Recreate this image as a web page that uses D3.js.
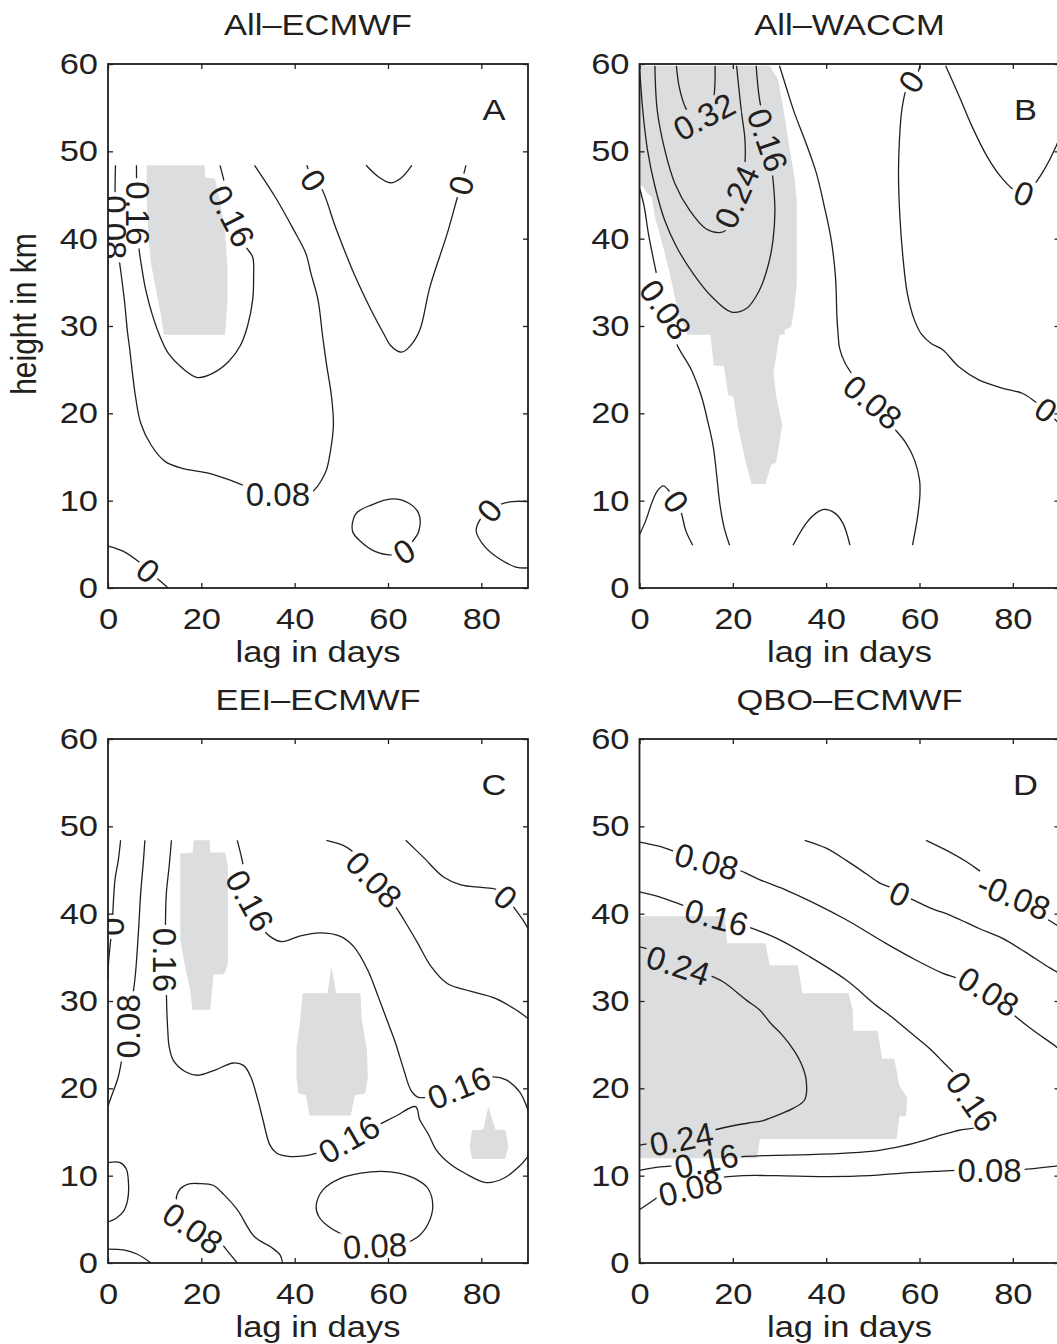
<!DOCTYPE html>
<html>
<head>
<meta charset="utf-8">
<script src="https://cdn.jsdelivr.net/npm/d3@7"></script>
<style>
body { margin: 0; background: #fff; }
svg text { font-family: "Liberation Sans", Arial, Helvetica, sans-serif; fill: #231f20; }
</style>
</head>
<body>
<script>
// axis ticks, titles
const lagTicks = [0, 20, 40, 60, 80];
const kmTicks = [0, 10, 20, 30, 40, 50, 60];
const titles = ["All\u2013ECMWF", "All\u2013WACCM", "EEI\u2013ECMWF", "QBO\u2013ECMWF"];
const letters = ["A", "B", "C", "D"];

// contour lines as [lag in days, height in km]
// panel A
const linesA = [
  // 0.08
  [[1.6,48.4],[1.5,44.4],[1.6,40.6],[2.6,36.8],[3.5,33.0],[4.2,29.2],[4.6,27.6],[5.0,25.7],[5.9,21.9],[7.0,18.9],[9.2,16.4],[12.2,14.5],[15.9,13.7],[21.0,13.2],[25.4,12.5],[29.9,11.6],[36.4,10.9],[43.2,10.8],[46.5,13.1],[47.7,15.8],[48.3,18.7],[47.9,21.9],[46.8,25.7],[46.0,28.8],[45.0,33.0],[43.5,36.0],[42.4,38.3],[39.8,41.0],[35.8,44.8],[31.4,48.4]],
  // 0.16
  [[6.1,48.4],[6.2,44.0],[6.6,39.1],[7.2,36.8],[8.1,34.1],[9.6,31.1],[11.3,28.6],[12.9,26.9],[15.9,25.2],[19.2,24.1],[22.5,24.6],[25.8,25.9],[28.4,27.8],[29.9,30.0],[31.0,33.0],[31.2,35.6],[31.0,37.9],[29.5,39.1],[26.5,42.6],[25.1,46.1],[24.0,48.4]],
  // 0
  [[42.6,48.4],[44.0,46.7],[45.7,45.8],[48.7,41.4],[52.7,36.0],[56.4,31.8],[59.4,28.8],[60.5,27.8],[62.9,27.0],[64.9,27.8],[66.8,29.5],[69.0,34.5],[72.7,40.6],[74.9,44.8],[75.6,46.1],[76.7,48.4]],
  [[55.3,48.4],[57.9,47.1],[60.5,46.4],[62.7,46.9],[65.1,48.4]],
  [[90,9.9],[86.7,9.9],[83.7,9.5],[81.7,8.9],[79.7,7.8],[78.9,6.5],[80.8,4.7],[83.7,3.4],[87.4,2.4],[90,2.3]],
  [[0,4.8],[3.3,4.2],[6.6,3.0],[8.6,2.0],[10.3,1.2],[12.9,0]]
];
const loopsA = [
  [[53.1,8.5],[56.4,9.5],[60.9,10.2],[64.5,9.7],[66.6,8.5],[66.6,6.5],[64.9,5.1],[63.4,4.2],[60.9,3.8],[57.2,4.2],[54.2,5.3],[52.4,6.5]]
];
const shadeA = [
  [[8.3,48.4],[20.7,48.4],[20.8,47.0],[22.9,46.9],[24.0,44.4],[25.1,40.6],[25.6,36.8],[25.6,33.0],[25.1,29.0],[12.0,29.0],[11.4,31.1],[10.3,34.1],[9.2,37.2],[8.6,40.6],[8.3,44.4]]
];
const labelsA = [
  ["0.08", 1.5, 41.3, 90], ["0.16", 6.3, 42.9, 90], ["0.16", 26.5, 42.6, 63],
  ["0", 44.0, 46.7, 58], ["0", 75.6, 46.1, -75], ["0.08", 36.4, 10.7, 0],
  ["0", 63.4, 4.2, -32], ["0", 81.7, 8.9, -50], ["0", 8.6, 2.0, 40]
];

// panel B
const linesB = [
  // 0.08 left
  [[0,45.8],[1.0,43.7],[1.9,40.6],[3.0,37.6],[3.8,35.6],[5.6,31.9],[7.9,28.0],[11.1,25.0],[13.3,21.9],[14.7,18.9],[15.8,16.2],[16.5,13.1],[17.2,9.7],[18.1,7.0],[19.3,4.9]],
  // 0.16
  [[0,59.7],[0.7,54.7],[1.7,50.2],[3.3,46.0],[5.4,42.1],[7.9,39.1],[11.5,36.0],[15.4,33.4],[19.7,31.6],[22.9,32.0],[25.7,34.1],[27.5,36.8],[28.6,39.8],[29.0,43.7],[27.5,51.3],[25.7,56.0],[25.0,59.8]],
  // 0.24
  [[3.3,59.8],[3.8,54.7],[5.4,50.2],[7.6,46.3],[10.8,43.2],[14.3,41.1],[17.2,40.7],[18.6,41.0],[20.8,44.8],[22.5,48.2],[22.6,51.3],[21.8,54.7],[20.8,59.8]],
  // 0.32
  [[7.9,59.8],[8.5,57.4],[9.7,55.2],[11.5,53.6],[13.8,53.4],[15.5,54.8],[16.1,57.1],[16.2,59.8]],
  // 0.08 right
  [[30.0,59.8],[31.4,57.4],[33.2,54.4],[35.7,50.9],[37.9,47.5],[39.6,43.7],[41.1,39.8],[42.0,35.6],[42.3,31.1],[42.5,29.5],[42.9,27.4],[44.1,25.7],[50.0,21.3],[54.2,18.5],[57.1,16.6],[58.9,14.7],[60.0,12.4],[60.1,10.8],[59.6,8.2],[58.5,4.9]],
  // 0
  [[60.1,59.8],[59.4,58.7],[58.2,58.0],[57.1,57.0],[56.2,54.7],[55.7,51.3],[55.5,47.5],[55.8,42.5],[56.5,37.6],[57.4,33.7],[58.9,30.7],[60.5,29.0],[62.5,28.0],[64.9,27.3],[68.5,25.3],[72.8,23.8],[77.7,22.9],[82.0,22.3],[84.9,21.3],[87.1,20.4],[89.2,19.2],[90,18.8]],
  [[65.6,59.8],[68.5,56.3],[71.3,52.8],[74.5,49.4],[77.4,47.1],[80.2,45.6],[82.4,45.2],[84.1,45.9],[86.6,47.8],[89.2,50.5],[90,51.6]],
  [[0,6.1],[1.4,7.8],[2.6,9.7],[3.8,11.1],[5.1,11.7],[6.5,11.0],[7.9,9.9],[9.0,8.5],[9.9,6.6],[11.4,4.9]],
  [[32.9,4.9],[35.7,7.4],[37.9,8.6],[39.6,9.0],[41.8,8.6],[43.6,7.4],[45.1,4.9]]
];
const loopsB = [];
const shadeB = [
  [[0,59.8],[27.9,59.8],[29.7,58.2],[30.9,54.7],[32.2,50.2],[33.2,47.1],[33.7,44.4],[33.7,34.9],[33.2,32.2],[32.5,29.9],[31.1,29.5],[31.1,29.0],[30.0,29.0],[28.7,24.6],[29.3,21.9],[30.6,18.7],[30.0,16.6],[29.2,14.3],[28.2,14.1],[27.0,11.9],[24.0,11.9],[22.5,15.0],[21.1,18.5],[20.1,21.9],[19.0,22.1],[18.1,25.4],[15.9,25.5],[15.2,29.0],[10.1,29.0],[10.1,29.5],[8.3,31.5],[6.5,36.0],[4.7,39.8],[3.3,42.5],[2.6,44.8],[1.7,45.2],[0.6,46.0],[0,46.0]]
];
const labelsB = [
  ["0.08", 5.6, 31.9, 55], ["0.16", 27.5, 51.3, 71], ["0.24", 20.8, 44.8, -66],
  ["0.32", 13.8, 54.0, -28], ["0.08", 50.0, 21.3, 40], ["0", 58.2, 58.0, -57],
  ["0", 87.1, 20.4, 35], ["0", 82.4, 45.2, 20], ["0", 7.9, 9.9, 55]
];

// panel C
const linesC = [
  [[2.7,48.4],[2.2,46.1],[1.5,43.9],[1.1,40.8],[0.9,38.5],[0.5,36.6],[0.1,34.3],[0,32.4]],
  // 0.08 left
  [[7.9,48.4],[7.6,46.1],[7.0,42.3],[6.5,37.7],[5.9,33.2],[5.4,30.9],[4.4,27.1],[3.0,23.4],[2.2,21.3],[1.1,19.6],[0.2,18.3],[0,17.9]],
  // 0.16 lower
  [[13.6,48.4],[13.1,45.4],[12.5,42.3],[12.3,38.5],[12.2,34.7],[12.5,31.1],[12.6,29.0],[12.8,26.7],[13.1,24.8],[14.0,23.2],[16.6,21.9],[19.2,21.5],[22.5,22.0],[26.9,22.9],[29.1,22.6],[30.6,21.3],[32.1,18.7],[33.2,16.4],[34.7,13.5],[36.1,12.6],[38.7,12.2],[42.4,12.3],[45.4,12.7],[51.6,14.2],[57.9,15.8],[61.6,16.8],[65.9,17.9],[66.8,16.4],[68.6,14.8],[70.4,12.9],[73.4,11.3],[76.4,10.3],[81.1,9.2],[84.8,9.7],[88.2,11.1],[90,12.2]],
  // 0.16 upper
  [[27.7,48.4],[28.8,46.0],[30.4,41.5],[32.5,38.8],[34.7,37.4],[37.3,36.8],[40.9,37.4],[45.4,37.8],[49.8,37.4],[52.7,36.2],[55.7,33.5],[57.9,30.5],[60.0,27.5],[61.6,25.2],[63.4,22.1],[64.9,19.8],[66.4,19.0],[68.6,19.0],[75.2,20.1],[82.3,21.3],[85.2,21.0],[88.2,19.6],[90,17.5]],
  // 0.08 upper
  [[46.8,48.4],[50.5,47.8],[52.7,47.0],[57.0,43.9],[61.6,40.8],[63.4,39.3],[66.4,36.6],[69.3,33.9],[72.7,32.0],[77.8,31.1],[83.0,30.3],[87.4,29.0],[90,28.0]],
  // 0
  [[63.8,48.4],[67.5,46.5],[71.9,44.2],[75.6,43.3],[80.0,43.0],[83.0,42.8],[85.2,41.9],[87.4,40.4],[88.9,39.3],[90,38.3]],
  [[0,11.5],[2.6,11.5],[3.9,10.8],[4.4,9.1],[4.2,7.2],[3.3,5.9],[1.7,5.1],[0,4.7]],
  [[0,1.6],[3.3,1.5],[6.3,1.0],[9.2,0]],
  // 0.08 arch
  [[27.7,0],[25.4,1.5],[24.0,2.4],[18.2,4.3],[14.8,6.5],[15.1,8.2],[17.0,9.0],[19.5,9.1],[22.5,8.9],[24.9,7.8],[27.7,6.1],[31.4,3.0],[35.0,1.8],[36.9,0.9],[37.4,0]]
];
const loopsC = [
  [[46.1,8.4],[49.8,9.7],[54.2,10.3],[58.6,10.5],[62.3,10.3],[66.0,9.6],[68.6,8.5],[69.6,6.5],[68.6,4.5],[66.4,3.0],[63.8,2.3],[57.2,2.0],[50.5,3.2],[47.2,4.2],[45.2,5.3],[44.6,6.5]]
];
const shadeC = [
  [[18.4,48.4],[21.8,48.4],[21.9,47.0],[25.1,47.0],[25.7,45.4],[25.7,34.3],[24.9,33.1],[22.6,33.0],[21.9,29.0],[18.1,29.0],[17.6,31.3],[16.4,34.3],[15.5,37.0],[15.5,46.9],[18.1,47.0]],
  [[47.9,33.9],[48.9,30.9],[54.1,30.9],[54.4,27.8],[55.5,24.4],[55.7,21.3],[55.1,19.4],[52.9,19.2],[52.0,16.9],[43.2,16.9],[42.4,19.2],[40.8,19.4],[40.4,21.3],[40.4,24.8],[41.1,27.4],[41.7,30.9],[47.0,30.9]],
  [[81.5,17.9],[83.0,15.3],[85.2,15.2],[85.8,13.3],[85.1,11.9],[78.0,11.9],[77.5,13.3],[78.0,15.2],[80.4,15.3]]
];
const labelsC = [
  ["0", 1.0, 38.5, 90], ["0.08", 4.4, 27.1, -90], ["0.16", 12.2, 34.7, 90],
  ["0.16", 30.4, 41.5, 61], ["0.08", 57.0, 43.9, 46], ["0", 85.2, 41.9, 40],
  ["0.16", 51.6, 14.2, -30], ["0.16", 75.2, 20.1, -22], ["0.08", 18.2, 4.0, 35],
  ["0.08", 57.2, 2.0, -3]
];

// panel D
const linesD = [
  // 0.08 upper
  [[0,48.2],[4.4,47.7],[7.6,47.1],[14.4,46.0],[20.8,45.1],[25.7,43.9],[31.4,42.7],[37.1,41.3],[44.3,39.3],[52.8,36.6],[59.2,34.7],[64.9,33.2],[68.1,32.6],[74.8,31.1],[80.2,28.4],[84.2,26.7],[89.2,24.8],[90,24.4]],
  // 0.16
  [[0,42.5],[4.4,41.9],[10.1,40.8],[16.5,39.6],[22.2,38.7],[29.3,37.2],[36.4,35.1],[44.3,32.4],[50.7,29.5],[53.5,28.4],[57.8,26.5],[62.1,24.6],[64.9,23.1],[67.9,21.4],[71.3,18.5],[72.9,15.8],[68.5,15.2],[64.9,14.7],[61.4,14.1],[56.4,13.4],[51.4,12.9],[45.0,12.6],[36.4,12.4],[27.2,12.3],[20.0,12.1],[14.3,11.7],[8.7,11.2],[4.4,11.0],[0,10.6]],
  // 0.24
  [[0,36.2],[3.7,35.6],[8.3,34.1],[14.7,33.0],[17.9,32.2],[22.9,30.1],[25.7,29.0],[28.2,27.4],[30.6,26.1],[32.9,24.5],[34.6,22.9],[35.7,21.0],[35.4,18.7],[32.9,17.7],[30.4,17.1],[26.5,16.3],[24.3,16.1],[20.8,15.8],[15.8,15.2],[9.0,14.2],[3.7,13.8],[0,13.5]],
  // 0.08 lower
  [[0,6.1],[2.2,6.9],[5.7,8.1],[10.9,8.9],[16.5,9.7],[22.2,10.0],[29.3,10.0],[40.0,9.9],[49.3,10.0],[56.4,10.3],[63.5,10.5],[68.1,10.6],[75.0,10.6],[82.0,10.7],[89.2,11.1],[90,11.15]],
  // 0
  [[35.4,48.4],[40.0,47.5],[44.3,46.1],[48.5,44.6],[51.5,43.5],[54.2,42.9],[55.8,42.3],[58.5,41.6],[62.1,40.7],[67.1,39.7],[72.8,38.3],[77.7,37.2],[82.7,35.6],[87.0,34.1],[89.2,33.4],[90,33.1]],
  // -0.08
  [[61.4,48.4],[65.6,47.3],[69.9,46.0],[72.9,44.9],[75.6,43.9],[80.2,42.0],[85.0,40.2],[90,38.5]]
];
const loopsD = [];
const shadeD = [
  [[0,39.7],[18.3,39.7],[18.8,36.6],[27.0,36.6],[27.9,34.1],[33.9,34.1],[34.9,30.9],[44.8,30.9],[45.7,29.0],[45.8,26.6],[51.0,26.6],[52.0,23.4],[54.6,23.4],[55.7,20.3],[57.4,18.9],[57.1,16.8],[55.7,16.8],[55.1,14.2],[25.8,14.2],[25.2,12.0],[0,12.0]]
];
const labelsD = [
  ["0.08", 14.4, 46.0, 15], ["0.08", 74.8, 31.1, 32], ["0.16", 16.5, 39.6, 15],
  ["0.16", 71.3, 18.5, 55], ["0.16", 14.3, 11.7, -12], ["0.24", 8.3, 34.1, 18],
  ["0.24", 9.0, 14.2, -11], ["0.08", 10.9, 8.6, -14], ["0.08", 75.0, 10.6, 0],
  ["0", 55.8, 42.3, 25], ["-0.08", 80.2, 42.0, 22]
];

const plotW = 420, plotH = 524;
const ink = "#231f20";
const grey = "#dcdddf";
const widen = 1.15;
const labelSize = 33;

const panels = [
  {title: titles[0], letter: letters[0], lines: linesA, loops: loopsA, shade: shadeA, labels: labelsA, left: 108, top: 64, ylab: true},
  {title: titles[1], letter: letters[1], lines: linesB, loops: loopsB, shade: shadeB, labels: labelsB, left: 639.5, top: 64},
  {title: titles[2], letter: letters[2], lines: linesC, loops: loopsC, shade: shadeC, labels: labelsC, left: 108, top: 739},
  {title: titles[3], letter: letters[3], lines: linesD, loops: loopsD, shade: shadeD, labels: labelsD, left: 639.5, top: 739}
];

const svg = d3.select("body").append("svg").attr("width", 1057).attr("height", 1344);
const defs = svg.append("defs");

function stretch(sel) {
  sel.each(function() {
    const w = this.getComputedTextLength();
    d3.select(this).attr("textLength", w * widen).attr("lengthAdjust", "spacingAndGlyphs");
  });
}

panels.forEach((p, i) => {
  const x = d3.scaleLinear().domain([0, 90]).range([p.left, p.left + plotW]);
  const y = d3.scaleLinear().domain([0, 60]).range([p.top + plotH, p.top]);
  const g = svg.append("g");

  defs.append("clipPath").attr("id", "clip" + i).append("rect")
    .attr("x", x(0)).attr("y", y(60)).attr("width", plotW).attr("height", plotH);

  const inner = g.append("g").attr("clip-path", `url(#clip${i})`);
  const poly = d3.line().x(d => x(d[0])).y(d => y(d[1]));

  // shading
  inner.selectAll("path.shade").data(p.shade).join("path")
    .attr("class", "shade")
    .attr("d", d => poly(d) + "Z")
    .attr("fill", grey);

  const lineLayer = inner.append("g");
  const labelLayer = inner.append("g");

  // contour labels
  const labs = labelLayer.selectAll("text").data(p.labels).join("text")
    .attr("transform", d => `translate(${x(d[1])},${y(d[2])}) rotate(${d[3]})`)
    .attr("text-anchor", "middle")
    .attr("dy", "0.36em")
    .style("font-size", labelSize + "px")
    .text(d => d[0]);

  // cut the lines under the labels
  const mask = defs.append("mask").attr("id", "mask" + i)
    .attr("maskUnits", "userSpaceOnUse")
    .attr("x", 0).attr("y", 0).attr("width", 1057).attr("height", 1344);
  mask.append("rect").attr("width", 1057).attr("height", 1344).attr("fill", "white");
  labs.each(function(d) {
    const w = this.getComputedTextLength();
    mask.append("rect")
      .attr("x", -w / 2 - 3).attr("y", -14).attr("width", w + 6).attr("height", 28)
      .attr("transform", `translate(${x(d[1])},${y(d[2])}) rotate(${d[3]})`)
      .attr("fill", "black");
  });

  lineLayer.attr("mask", `url(#mask${i})`);
  lineLayer.selectAll("path.open").data(p.lines).join("path")
    .attr("class", "open")
    .attr("d", d3.line().x(d => x(d[0])).y(d => y(d[1])).curve(d3.curveCatmullRom.alpha(0.5)))
    .attr("fill", "none").attr("stroke", ink).attr("stroke-width", 1.3);
  lineLayer.selectAll("path.loop").data(p.loops).join("path")
    .attr("class", "loop")
    .attr("d", d3.line().x(d => x(d[0])).y(d => y(d[1])).curve(d3.curveCatmullRomClosed.alpha(0.5)))
    .attr("fill", "none").attr("stroke", ink).attr("stroke-width", 1.3);

  // axes, ticks inside on all four sides
  const xAxis = g.append("g").attr("transform", `translate(0,${y(0)})`)
    .call(d3.axisBottom(x).tickValues(lagTicks).tickSizeInner(-5).tickSizeOuter(0).tickPadding(20));
  const tAxis = g.append("g").attr("transform", `translate(0,${y(60)})`)
    .call(d3.axisTop(x).tickValues(lagTicks).tickSizeInner(-5).tickSizeOuter(0).tickFormat(""));
  const yAxis = g.append("g").attr("transform", `translate(${x(0)},0)`)
    .call(d3.axisLeft(y).tickValues(kmTicks).tickSizeInner(-5).tickSizeOuter(0).tickPadding(10));
  const rAxis = g.append("g").attr("transform", `translate(${x(90)},0)`)
    .call(d3.axisRight(y).tickValues(kmTicks).tickSizeInner(-5).tickSizeOuter(0).tickFormat(""));
  [xAxis, tAxis, yAxis, rAxis].forEach(a => {
    a.attr("color", ink);
    a.select(".domain").remove();
    a.selectAll(".tick line").attr("stroke-width", 1.3);
    a.selectAll(".tick text").style("font-size", "30px").call(stretch);
  });

  // frame
  g.append("rect")
    .attr("x", x(0)).attr("y", y(60)).attr("width", plotW).attr("height", plotH)
    .attr("fill", "none").attr("stroke", ink).attr("stroke-width", 1.8);

  const cx = x(45);
  g.append("text").attr("x", cx).attr("y", p.top - 29)
    .attr("text-anchor", "middle").style("font-size", "30px")
    .text(p.title).call(stretch);

  g.append("text").attr("x", cx).attr("y", y(0) + 74)
    .attr("text-anchor", "middle").style("font-size", "30px")
    .text("lag in days").call(stretch);

  g.append("text").attr("x", x(82.7)).attr("y", p.top + 56)
    .attr("text-anchor", "middle").style("font-size", "30px")
    .text(p.letter).call(stretch);

  if (p.ylab) {
    g.append("text")
      .attr("transform", `translate(36,${(y(0) + y(60)) / 2 - 12}) scale(${widen},1) rotate(-90)`)
      .attr("text-anchor", "middle").style("font-size", "30px")
      .text("height in km");
  }
});
</script>
</body>
</html>
